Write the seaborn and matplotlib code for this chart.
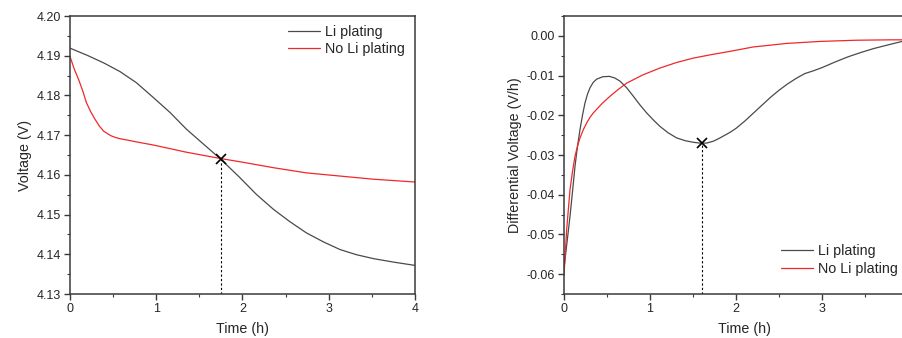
import numpy as np
import pandas as pd
import matplotlib
matplotlib.use('Agg')
import matplotlib.pyplot as plt
from matplotlib.ticker import MultipleLocator, FixedLocator, FormatStrFormatter
import seaborn as sns

# left panel: voltage vs time
t_li = [0, 0.2, 0.39, 0.58, 0.77, 0.97, 1.16, 1.35, 1.55, 1.75, 1.97, 2.16, 2.36, 2.55, 2.74,
        2.94, 3.13, 3.32, 3.52, 3.76, 4.0]
v_li = [4.1919, 4.1901, 4.1882, 4.1860, 4.1832, 4.1794, 4.1757, 4.1715, 4.1677, 4.1639, 4.1593,
        4.1551, 4.1513, 4.1482, 4.1454, 4.1431, 4.1412, 4.1399, 4.1389, 4.1380, 4.1372]
t_no = [0, 0.05, 0.1, 0.15, 0.19, 0.24, 0.29, 0.34, 0.39, 0.44, 0.48, 0.53, 0.58, 0.68, 0.77,
        0.97, 1.16, 1.35, 1.55, 1.75, 1.97, 2.36, 2.74, 3.13, 3.52, 4.0]
v_no = [4.1898, 4.1866, 4.1840, 4.1810, 4.1782, 4.1759, 4.1740, 4.1723, 4.1710, 4.1703, 4.1698,
        4.1694, 4.1691, 4.1687, 4.1683, 4.1675, 4.1666, 4.1657, 4.1649, 4.1641, 4.1633, 4.1618,
        4.1605, 4.1597, 4.1589, 4.1582]
cross_v_t, cross_v_y = 1.75, 4.1639

# right panel: differential voltage vs time
dt_li = [0, 0.035, 0.07, 0.1, 0.128, 0.157, 0.186, 0.215, 0.244, 0.273, 0.302, 0.34, 0.38, 0.45,
         0.527, 0.59, 0.651, 0.73, 0.806, 0.88, 0.961, 1.04, 1.116, 1.21, 1.31, 1.41, 1.504,
         1.58, 1.659, 1.74, 1.814, 1.93, 2.0, 2.1, 2.2, 2.3, 2.4, 2.5, 2.6, 2.7, 2.8, 2.9, 3.0,
         3.15, 3.3, 3.45, 3.6, 3.8, 3.95, 4.1]
dv_li = [-0.0585, -0.0520, -0.0454, -0.0390, -0.0328, -0.0278, -0.0236, -0.0200, -0.0169,
         -0.0147, -0.0131, -0.0117, -0.0109, -0.0103, -0.0102, -0.0106, -0.0114, -0.0131,
         -0.0152, -0.0173, -0.0194, -0.0212, -0.0228, -0.0244, -0.0257, -0.0264, -0.0268,
         -0.0270, -0.0270, -0.0265, -0.0257, -0.0243, -0.0233, -0.0215, -0.0195, -0.0175,
         -0.0155, -0.0137, -0.0121, -0.0107, -0.0095, -0.0088, -0.0080, -0.0066, -0.0053,
         -0.0042, -0.0032, -0.0021, -0.0013, -0.0008]
dt_no = [0, 0.031, 0.07, 0.1, 0.128, 0.157, 0.186, 0.225, 0.264, 0.3, 0.341, 0.44, 0.535, 0.63,
         0.729, 0.92, 1.116, 1.31, 1.504, 1.72, 1.93, 2.2, 2.59, 2.98, 3.4, 3.8, 4.1]
dv_no = [-0.0603, -0.0488, -0.0387, -0.0340, -0.0303, -0.0278, -0.0257, -0.0236, -0.0219,
         -0.0206, -0.0194, -0.0171, -0.0152, -0.0135, -0.0119, -0.0098, -0.0081, -0.0067,
         -0.0056, -0.0047, -0.0039, -0.0028, -0.0019, -0.0014, -0.0011, -0.0010, -0.0010]
cross_d_t, cross_d_y = 1.6, -0.0269

labels = ['Li plating', 'No Li plating']
colors = ['#4a4a4a', '#f0282a']


def style_axes(ax):
    for s in ax.spines.values():
        s.set_color('#3a3a3a')
        s.set_linewidth(1.1)
    ax.tick_params(which='major', direction='out', length=4, width=1.0, color='#3a3a3a',
                   labelsize=9, bottom=True, left=True, top=False, right=False, pad=2.5)
    ax.tick_params(which='minor', direction='out', length=2.5, width=0.8, color='#3a3a3a',
                   bottom=True, left=True, top=False, right=False)
    ax.xaxis.set_minor_locator(MultipleLocator(0.5))
    ax.yaxis.set_major_locator(MultipleLocator(0.01))
    ax.yaxis.set_minor_locator(MultipleLocator(0.005))
    ax.yaxis.set_major_formatter(FormatStrFormatter('%.2f'))


def main():
    sns.set_style('white')
    plt.rcParams['font.family'] = ['Liberation Sans', 'DejaVu Sans']

    fig = plt.figure(figsize=(9.03, 3.38), dpi=100)
    ax1 = fig.add_axes([70 / 903, 1 - 294 / 338, 345 / 903, 278 / 338])
    ax2 = fig.add_axes([564 / 903, 1 - 294 / 338, 4.2 * 86 / 903, 278 / 338])

    left = pd.concat([
        pd.DataFrame({'t': t_li, 'v': v_li, 'series': labels[0]}),
        pd.DataFrame({'t': t_no, 'v': v_no, 'series': labels[1]}),
    ])
    right = pd.concat([
        pd.DataFrame({'t': dt_li, 'v': dv_li, 'series': labels[0]}),
        pd.DataFrame({'t': dt_no, 'v': dv_no, 'series': labels[1]}),
    ])

    leg_kw = dict(frameon=False, fontsize=10.3, handlelength=2.25, handletextpad=0.3,
                  labelspacing=0.25, borderpad=0, borderaxespad=0)

    sns.lineplot(data=left, x='t', y='v', hue='series', palette=colors, linewidth=0.9, ax=ax1)
    ax1.vlines(cross_v_t, 4.13, cross_v_y, colors='black', linestyles=(0, (2, 2)), linewidth=0.8)
    ax1.plot([cross_v_t], [cross_v_y], marker='x', color='black', markersize=7, mew=1.2, ls='none')
    ax1.set(xlim=(0, 4), ylim=(4.13, 4.20))
    style_axes(ax1)
    ax1.xaxis.set_major_locator(MultipleLocator(1))
    ax1.set_xlabel('Time (h)', fontsize=10.3, labelpad=5)
    ax1.set_ylabel('Voltage (V)', fontsize=10.3, labelpad=3)
    ax1.legend(loc='upper left', bbox_to_anchor=(0.632, 0.968), **leg_kw)

    sns.lineplot(data=right, x='t', y='v', hue='series', palette=colors, linewidth=0.9, ax=ax2)
    ax2.vlines(cross_d_t, -0.065, cross_d_y, colors='black', linestyles=(0, (2, 2)), linewidth=0.8)
    ax2.plot([cross_d_t], [cross_d_y], marker='x', color='black', markersize=7, mew=1.2, ls='none')
    ax2.set(xlim=(0, 4.2), ylim=(-0.065, 0.005))
    style_axes(ax2)
    ax2.xaxis.set_major_locator(FixedLocator([0, 1, 2, 3]))
    ax2.xaxis.set_minor_locator(FixedLocator([0.5, 1.5, 2.5, 3.5]))
    ax2.set_xlabel('Time (h)', fontsize=10.3, labelpad=5)
    ax2.set_ylabel('Differential Voltage (V/h)', fontsize=10.3, labelpad=3)
    ax2.legend(loc='lower left', bbox_to_anchor=(0.601, 0.065), **leg_kw)

    fig.savefig('out.png', dpi=100)


if __name__ == '__main__':
    main()
